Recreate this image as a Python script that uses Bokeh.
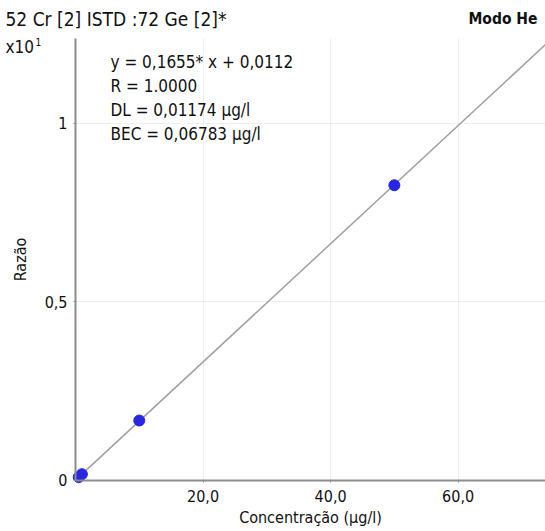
from bokeh.plotting import figure
from bokeh.models import Range1d, FixedTicker, Label, Grid
from bokeh.embed import file_html
from bokeh.resources import INLINE

# data
conc = [0.5, 1.0, 10.0, 50.0]
ratio = [0.0094, 0.0177, 0.168, 0.827]
fit_x = [0.0, 75.0]
fit_y = [0.0011, 1.2424]
x_ticks = [20, 40, 60]
x_tick_labels = ["20,0", "40,0", "60,0"]
y_ticks = [0, 0.5, 1]
y_tick_labels = ["0", "0,5", "1"]
x_bounds = (0, 73.7)
y_bounds = (0, 1.238)
title_text = "52 Cr [2] ISTD :72 Ge [2]*"
mode_text = "Modo He"
eq_lines = ["y = 0,1655* x + 0,0112", "R = 1.0000", "DL = 0,01174 µg/l", "BEC = 0,06783 µg/l"]

FONT = "'Liberation Sans Narrow', 'DejaVu Sans Condensed', sans-serif"
W, H = 545, 531

# frame covers the whole canvas; axes sit at fixed data locations
p = figure(width=W, height=H, output_backend="svg", toolbar_location=None,
           x_range=Range1d(-11.765, 73.7), y_range=Range1d(-0.1429, 1.3445),
           min_border_left=0, min_border_right=0, min_border_top=0, min_border_bottom=0)
p.outline_line_color = None
p.background_fill_color = "white"

has_cross = "cross_bounds" in Grid.properties()
for g, cb in ((p.xgrid[0], y_bounds), (p.ygrid[0], x_bounds)):
    if has_cross:
        g.cross_bounds = cb
        g.grid_line_color = "#efefef"
    else:
        g.grid_line_color = None

for ax in (p.xaxis[0], p.yaxis[0]):
    ax.fixed_location = 0
    ax.axis_line_color = "#8c8c8c"
    ax.axis_line_width = 2
    ax.major_tick_line_color = "#8c8c8c"
    ax.major_tick_in = 0
    ax.major_tick_out = 2
    ax.minor_tick_line_color = None
    ax.major_label_text_font = FONT
    ax.major_label_text_font_size = "16px"
    ax.major_label_text_color = "#111111"
    ax.axis_label_text_font = FONT
    ax.axis_label_text_font_size = "16px"
    ax.axis_label_text_font_style = "normal"
    ax.axis_label_text_color = "#111111"

p.xaxis.bounds = x_bounds
p.yaxis.bounds = y_bounds
p.xaxis.ticker = FixedTicker(ticks=x_ticks)
p.xaxis.major_label_overrides = dict(zip(x_ticks, x_tick_labels))
p.yaxis.ticker = FixedTicker(ticks=y_ticks)
p.yaxis.major_label_overrides = {0: "0", 0.5: "0,5", 1: "1"}
p.xaxis.axis_label = "Concentração (µg/l)"
p.yaxis.axis_label = "Razão"
p.xaxis.major_label_standoff = 8
p.yaxis.major_label_standoff = 6
p.xaxis.axis_label_standoff = 2
p.yaxis.axis_label_standoff = 12

p.line(fit_x, fit_y, line_color="#a0a0a0", line_width=1.5)
p.scatter(conc, ratio, size=11, fill_color="#2626e4", line_color="#2626e4")

def lab(text, x, y, size="16px", align="left", bold=False):
    p.add_layout(Label(x=x, y=y, x_units="screen", y_units="screen", text=text,
                       text_font=FONT, text_font_size=size, text_align=align,
                       text_baseline="middle", text_color="#111111",
                       text_font_style="bold" if bold else "normal"))

lab(title_text, 5, H - 18, "19px")
lab(mode_text, 537, H - 18, "15.5px", "right", True)
lab("x10", 5, H - 46, "17px")
lab("1", 35, H - 41, "10px")
for i, t in enumerate(eq_lines):
    lab(t, 110, H - 61 - 24 * i, "17px")

open("out.html", "w").write(file_html(p, INLINE))
